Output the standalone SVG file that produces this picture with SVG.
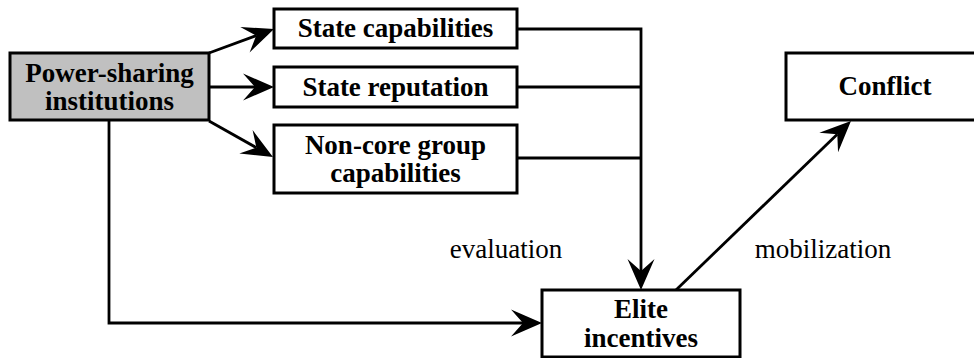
<svg xmlns="http://www.w3.org/2000/svg" width="974" height="358" viewBox="0 0 974 358">
  <style>
    .box { fill: #ffffff; stroke: #000000; stroke-width: 3; }
    .box.shade { fill: #c0c0c0; }
    text { font-family: 'Liberation Serif', 'DejaVu Serif', serif; font-size: 27px; fill: #000000; text-anchor: middle; }
    .lbl { font-weight: bold; }
    .link { fill: none; stroke: #000000; stroke-width: 2.8; stroke-linejoin: miter; }
  </style>
  <defs>
    <!-- notched arrowhead; line end sits in the notch, tip 19px further on -->
    <marker id="head" viewBox="-13 -15 34 30" refX="0" refY="0" markerWidth="34" markerHeight="30" markerUnits="userSpaceOnUse" orient="auto">
      <path d="M19,0 L-12,-13.5 L0,0 L-12,13.5 Z" fill="#000000"/>
    </marker>
  </defs>

  <g id="connectors">
    <path class="link" d="M209,53 L256.2,35.6" marker-end="url(#head)"/>
    <path class="link" d="M209,87 L255,87" marker-end="url(#head)"/>
    <path class="link" d="M209,121 L256.4,147.7" marker-end="url(#head)"/>
    <path class="link" d="M517,29 H641 V271" marker-end="url(#head)"/>
    <path class="link" d="M517,87 H641"/>
    <path class="link" d="M517,158 H641"/>
    <path class="link" d="M109,120 V323 H523" marker-end="url(#head)"/>
    <path class="link" d="M676,290 L837.3,134.2" marker-end="url(#head)"/>
    <text class="note" x="506" y="258" font-family="Liberation Serif, serif">evaluation</text>
    <text class="note" x="823" y="258" font-family="Liberation Serif, serif">mobilization</text>
  </g>

  <g id="power-sharing">
    <rect class="box shade" x="10" y="53" width="199" height="67"/>
    <text class="lbl" x="109.5" y="82">Power-sharing</text>
    <text class="lbl" x="109.5" y="110">institutions</text>
  </g>

  <g id="state-capabilities">
    <rect class="box" x="274" y="9" width="243" height="39"/>
    <text class="lbl" x="395.5" y="37">State capabilities</text>
  </g>

  <g id="state-reputation">
    <rect class="box" x="274" y="67" width="243" height="40"/>
    <text class="lbl" x="395.5" y="96">State reputation</text>
  </g>

  <g id="non-core">
    <rect class="box" x="274" y="125" width="243" height="68"/>
    <text class="lbl" x="395.5" y="154">Non-core group</text>
    <text class="lbl" x="395.5" y="182">capabilities</text>
  </g>

  <g id="elite-incentives">
    <rect class="box" x="542" y="290" width="198" height="67"/>
    <text class="lbl" x="641" y="318">Elite</text>
    <text class="lbl" x="641" y="347">incentives</text>
  </g>

  <g id="conflict">
    <rect class="box" x="786" y="53" width="198" height="67"/>
    <text class="lbl" x="885" y="95">Conflict</text>
  </g>
</svg>
